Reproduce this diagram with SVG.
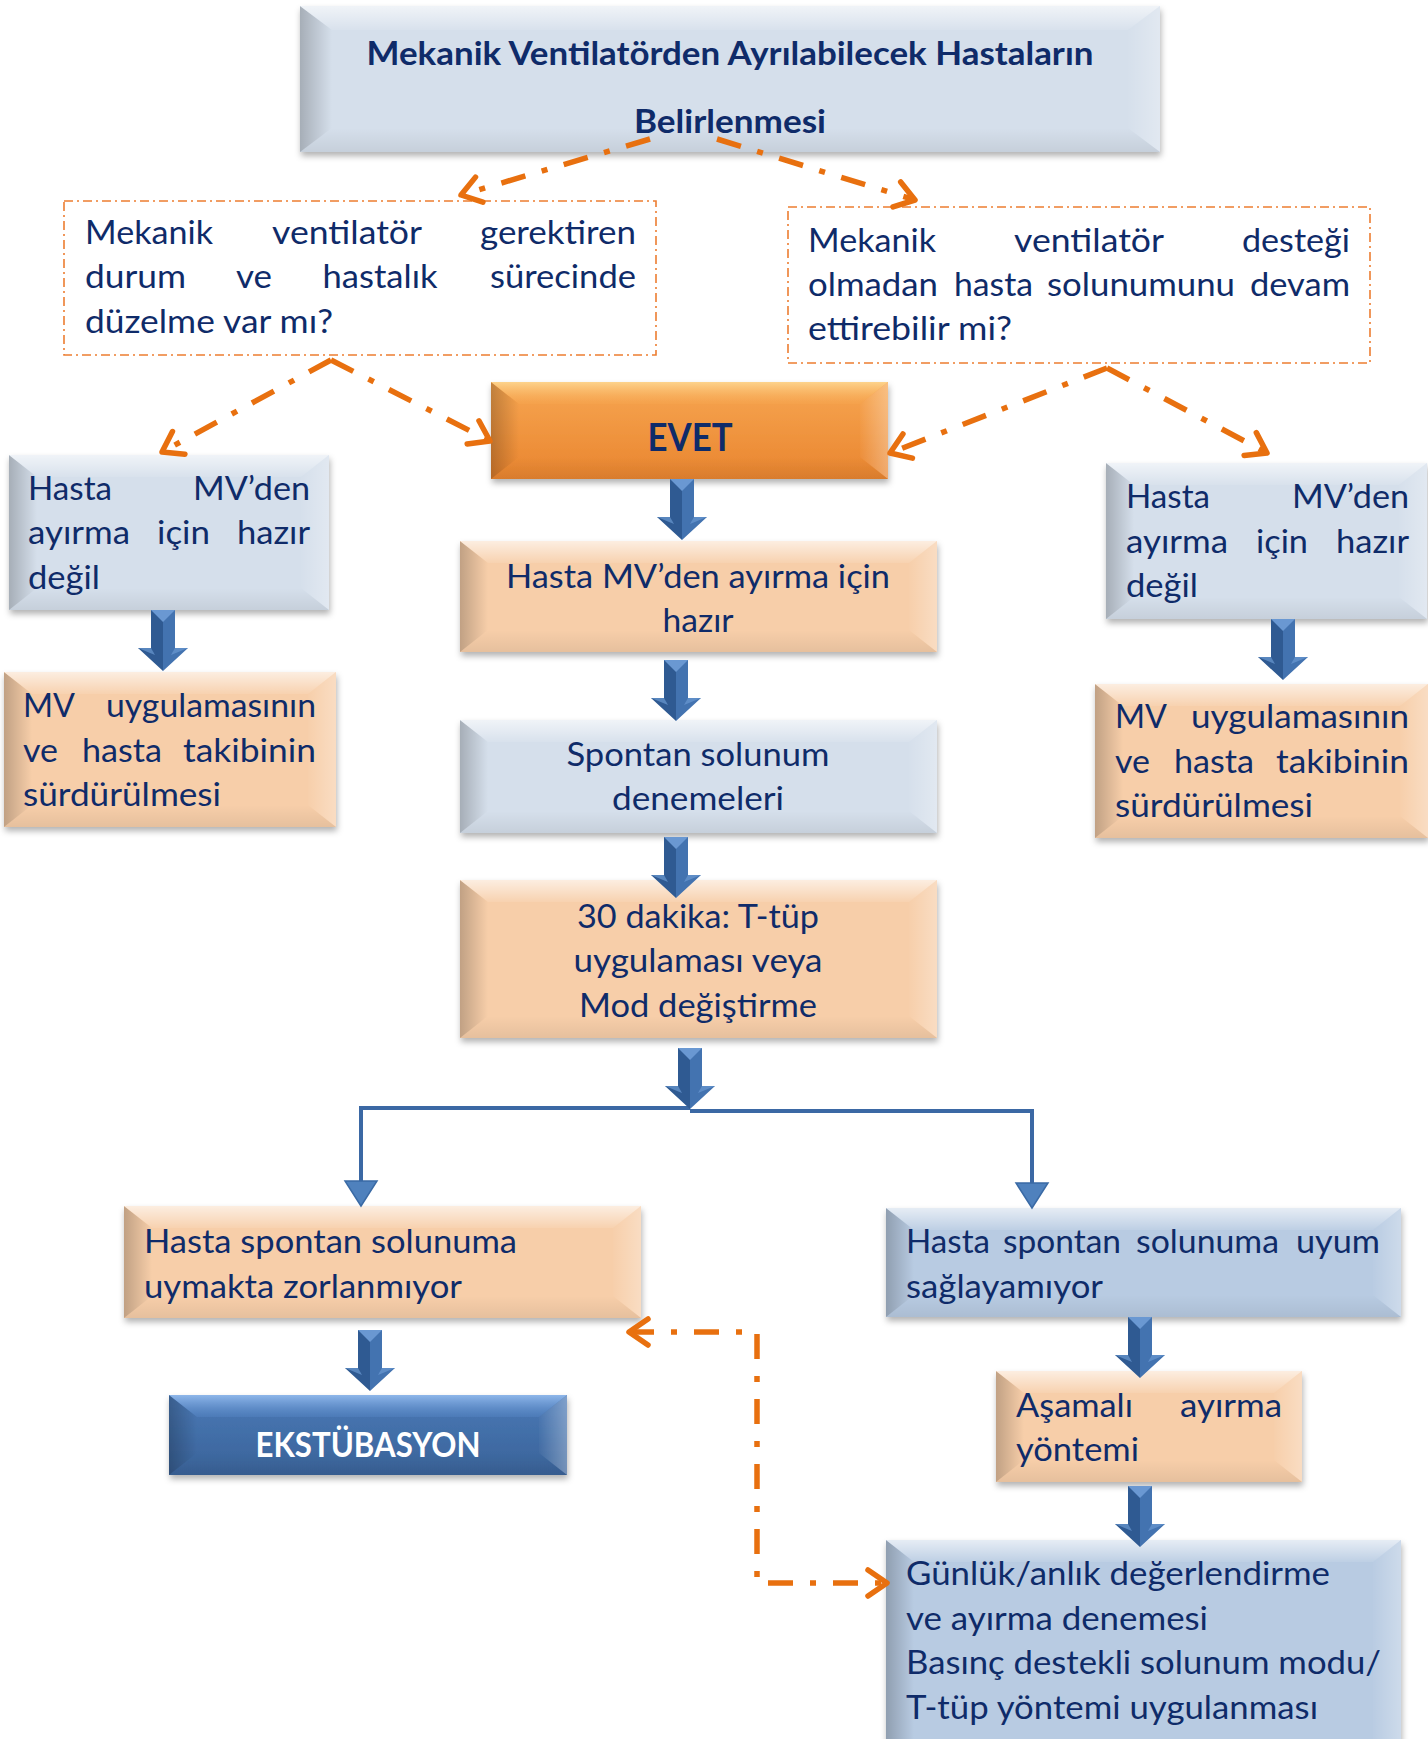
<svg xmlns="http://www.w3.org/2000/svg" xmlns:xlink="http://www.w3.org/1999/xlink" width="1428" height="1739" viewBox="0 0 1428 1739">
<style>
.t{font-family:Lato,"Open Sans","Liberation Sans",sans-serif;font-size:33px;fill:#0f2b69}
.tb{font-family:Lato,"Open Sans","Liberation Sans",sans-serif;font-weight:bold;fill:#0f2b69}
.lb{fill:#d5dfeb}
.pe{fill:#f7cea9}
.mb{fill:#b8cbe2}
.ev{fill:url(#gEv)}
.dk{fill:url(#gDk)}
.bl{fill:url(#ovL)}
.br{fill:url(#ovR)}
.bt{fill:url(#ovT)}
.bb{fill:url(#ovB)}
.dbox{fill:#fff;stroke:#ed7d31;stroke-width:1.6;stroke-dasharray:9 4 2 4}
.oc{fill:none;stroke:#e8700f;stroke-width:5.5;stroke-dasharray:25 17 6 17}
.bc{fill:none;stroke:#3b68a4;stroke-width:4}
.tri{fill:#4f81bd;stroke:#3a6aa5;stroke-width:1.5}
</style>
<defs>
<linearGradient id="ovL" x1="0" y1="0" x2="1" y2="0"><stop offset="0" stop-color="#000" stop-opacity="0.22"/><stop offset="1" stop-color="#000" stop-opacity="0"/></linearGradient>
<linearGradient id="ovR" x1="1" y1="0" x2="0" y2="0"><stop offset="0" stop-color="#fff" stop-opacity="0.3"/><stop offset="1" stop-color="#fff" stop-opacity="0.02"/></linearGradient>
<linearGradient id="ovT" x1="0" y1="0" x2="0" y2="1"><stop offset="0" stop-color="#fff" stop-opacity="0.65"/><stop offset="1" stop-color="#fff" stop-opacity="0.08"/></linearGradient>
<linearGradient id="ovB" x1="0" y1="1" x2="0" y2="0"><stop offset="0" stop-color="#000" stop-opacity="0.07"/><stop offset="1" stop-color="#000" stop-opacity="0"/></linearGradient>
<linearGradient id="gEv" x1="0" y1="0" x2="0" y2="1"><stop offset="0" stop-color="#f7a651"/><stop offset="1" stop-color="#e9852f"/></linearGradient>
<linearGradient id="gDk" x1="0" y1="0" x2="0" y2="1"><stop offset="0" stop-color="#4a79b6"/><stop offset="1" stop-color="#3a6399"/></linearGradient>
<linearGradient id="gEvT" x1="0" y1="0" x2="0" y2="1"><stop offset="0" stop-color="#fdd38c"/><stop offset="1" stop-color="#f7a853" stop-opacity="0.3"/></linearGradient>
<linearGradient id="gDkT" x1="0" y1="0" x2="0" y2="1"><stop offset="0" stop-color="#8fb7ea"/><stop offset="1" stop-color="#5586c6" stop-opacity="0.4"/></linearGradient>
<filter id="sh" x="-5%" y="-10%" width="112%" height="130%"><feDropShadow dx="1" dy="4" stdDeviation="3" flood-color="#000" flood-opacity="0.3"/></filter>
<marker id="chev" viewBox="-24 -17 28 34" refX="0" refY="0" markerWidth="28" markerHeight="34" markerUnits="userSpaceOnUse" orient="auto-start-reverse">
<path d="M-19,-13 L0,0 L-19,13" fill="none" stroke="#e8700f" stroke-width="5.5" stroke-linecap="round" stroke-linejoin="round"/>
</marker>
<g id="ba">
<polygon points="-12,0 0,0 0,61 -25,38 -12,38" fill="#2f5a92"/>
<polygon points="0,0 12,0 12,38 25,38 0,61" fill="#4373b0"/>
<polygon points="-12,0 12,0 0,12" fill="#6a98d2"/>
<polygon points="-25,38 -12,38 -8,45" fill="#6a98d2" opacity="0.7"/>
<polygon points="25,38 12,38 8,45" fill="#6a98d2" opacity="0.7"/>
</g>
</defs>

<rect width="1428" height="1739" fill="#fff"/>

<g id="title">
<rect x="300" y="6" width="860" height="146" class="lb" filter="url(#sh)"/>
<polygon class="bl" points="300,6 332,30 332,128 300,152"/>
<polygon class="br" points="1160,6 1128,30 1128,128 1160,152"/>
<polygon class="bt" points="300,6 1160,6 1128,30 332,30"/>
<polygon class="bb" points="300,152 1160,152 1128,128 332,128"/>
<text class="tb" font-size="32" x="730" y="65" text-anchor="middle" textLength="727" lengthAdjust="spacingAndGlyphs">Mekanik Ventilatörden Ayrılabilecek Hastaların</text>
<text class="tb" font-size="32" x="730" y="133" text-anchor="middle" textLength="192" lengthAdjust="spacingAndGlyphs">Belirlenmesi</text>
</g>

<g id="q1">
<rect x="64" y="201" width="592" height="154" class="dbox"/>
<text class="t" x="85" y="244" textLength="128" lengthAdjust="spacingAndGlyphs">Mekanik</text>
<text class="t" x="347" y="244" text-anchor="middle" textLength="150" lengthAdjust="spacingAndGlyphs">ventilatör</text>
<text class="t" x="636" y="244" text-anchor="end" textLength="156" lengthAdjust="spacingAndGlyphs">gerektiren</text>
<text class="t" x="85" y="288" textLength="101" lengthAdjust="spacingAndGlyphs">durum</text>
<text class="t" x="254" y="288" text-anchor="middle" textLength="36" lengthAdjust="spacingAndGlyphs">ve</text>
<text class="t" x="380" y="288" text-anchor="middle" textLength="115" lengthAdjust="spacingAndGlyphs">hastalık</text>
<text class="t" x="636" y="288" text-anchor="end" textLength="146" lengthAdjust="spacingAndGlyphs">sürecinde</text>
<text class="t" x="85" y="333" textLength="248" lengthAdjust="spacingAndGlyphs">düzelme var mı?</text>
</g>

<g id="q2">
<rect x="788" y="207" width="582" height="156" class="dbox"/>
<text class="t" x="808" y="252" textLength="128" lengthAdjust="spacingAndGlyphs">Mekanik</text>
<text class="t" x="1089" y="252" text-anchor="middle" textLength="150" lengthAdjust="spacingAndGlyphs">ventilatör</text>
<text class="t" x="1350" y="252" text-anchor="end" textLength="108" lengthAdjust="spacingAndGlyphs">desteği</text>
<text class="t" x="808" y="296" textLength="130" lengthAdjust="spacingAndGlyphs">olmadan</text>
<text class="t" x="954" y="296" textLength="79" lengthAdjust="spacingAndGlyphs">hasta</text>
<text class="t" x="1047" y="296" textLength="188" lengthAdjust="spacingAndGlyphs">solunumunu</text>
<text class="t" x="1350" y="296" text-anchor="end" textLength="100" lengthAdjust="spacingAndGlyphs">devam</text>
<text class="t" x="808" y="340" textLength="204" lengthAdjust="spacingAndGlyphs">ettirebilir mi?</text>
</g>

<g id="evet">
<rect x="491" y="382" width="397" height="97" class="ev" filter="url(#sh)"/>
<polygon class="bl" points="491,382 519,404 519,457 491,479"/>
<polygon class="br" points="888,382 860,404 860,457 888,479"/>
<polygon fill="url(#gEvT)" points="491,382 888,382 860,404 519,404"/>
<polygon class="bb" points="491,479 888,479 860,457 519,457"/>
<text class="tb" font-size="38" x="690" y="451" text-anchor="middle" textLength="85" lengthAdjust="spacingAndGlyphs">EVET</text>
</g>

<g id="lnot">
<rect x="9" y="455" width="320" height="155" class="lb" filter="url(#sh)"/>
<polygon class="bl" points="9,455 37,477 37,588 9,610"/>
<polygon class="br" points="329,455 301,477 301,588 329,610"/>
<polygon class="bt" points="9,455 329,455 301,477 37,477"/>
<polygon class="bb" points="9,610 329,610 301,588 37,588"/>
<text class="t" x="28" y="500" textLength="84" lengthAdjust="spacingAndGlyphs">Hasta</text>
<text class="t" x="310" y="500" text-anchor="end" textLength="117" lengthAdjust="spacingAndGlyphs">MV’den</text>
<text class="t" x="28" y="544" textLength="102" lengthAdjust="spacingAndGlyphs">ayırma</text>
<text class="t" x="157" y="544" textLength="53" lengthAdjust="spacingAndGlyphs">için</text>
<text class="t" x="310" y="544" text-anchor="end" textLength="73" lengthAdjust="spacingAndGlyphs">hazır</text>
<text class="t" x="28" y="589" textLength="72" lengthAdjust="spacingAndGlyphs">değil</text>
</g>

<g id="lmv">
<rect x="4" y="672" width="332" height="155" class="pe" filter="url(#sh)"/>
<polygon class="bl" points="4,672 32,694 32,805 4,827"/>
<polygon class="br" points="336,672 308,694 308,805 336,827"/>
<polygon class="bt" points="4,672 336,672 308,694 32,694"/>
<polygon class="bb" points="4,827 336,827 308,805 32,805"/>
<text class="t" x="23" y="717" textLength="52" lengthAdjust="spacingAndGlyphs">MV</text>
<text class="t" x="316" y="717" text-anchor="end" textLength="210" lengthAdjust="spacingAndGlyphs">uygulamasının</text>
<text class="t" x="23" y="762" textLength="35" lengthAdjust="spacingAndGlyphs">ve</text>
<text class="t" x="82" y="762" textLength="80" lengthAdjust="spacingAndGlyphs">hasta</text>
<text class="t" x="316" y="762" text-anchor="end" textLength="133" lengthAdjust="spacingAndGlyphs">takibinin</text>
<text class="t" x="23" y="806" textLength="198" lengthAdjust="spacingAndGlyphs">sürdürülmesi</text>
</g>

<g id="rnot">
<rect x="1106" y="463" width="321" height="156" class="lb" filter="url(#sh)"/>
<polygon class="bl" points="1106,463 1134,485 1134,597 1106,619"/>
<polygon class="br" points="1427,463 1399,485 1399,597 1427,619"/>
<polygon class="bt" points="1106,463 1427,463 1399,485 1134,485"/>
<polygon class="bb" points="1106,619 1427,619 1399,597 1134,597"/>
<text class="t" x="1126" y="508" textLength="84" lengthAdjust="spacingAndGlyphs">Hasta</text>
<text class="t" x="1409" y="508" text-anchor="end" textLength="117" lengthAdjust="spacingAndGlyphs">MV’den</text>
<text class="t" x="1126" y="553" textLength="102" lengthAdjust="spacingAndGlyphs">ayırma</text>
<text class="t" x="1256" y="553" textLength="52" lengthAdjust="spacingAndGlyphs">için</text>
<text class="t" x="1409" y="553" text-anchor="end" textLength="73" lengthAdjust="spacingAndGlyphs">hazır</text>
<text class="t" x="1126" y="597" textLength="72" lengthAdjust="spacingAndGlyphs">değil</text>
</g>

<g id="rmv">
<rect x="1095" y="684" width="333" height="154" class="pe" filter="url(#sh)"/>
<polygon class="bl" points="1095,684 1123,706 1123,816 1095,838"/>
<polygon class="br" points="1428,684 1400,706 1400,816 1428,838"/>
<polygon class="bt" points="1095,684 1428,684 1400,706 1123,706"/>
<polygon class="bb" points="1095,838 1428,838 1400,816 1123,816"/>
<text class="t" x="1115" y="728" textLength="52" lengthAdjust="spacingAndGlyphs">MV</text>
<text class="t" x="1409" y="728" text-anchor="end" textLength="218" lengthAdjust="spacingAndGlyphs">uygulamasının</text>
<text class="t" x="1115" y="773" textLength="35" lengthAdjust="spacingAndGlyphs">ve</text>
<text class="t" x="1174" y="773" textLength="80" lengthAdjust="spacingAndGlyphs">hasta</text>
<text class="t" x="1409" y="773" text-anchor="end" textLength="133" lengthAdjust="spacingAndGlyphs">takibinin</text>
<text class="t" x="1115" y="817" textLength="198" lengthAdjust="spacingAndGlyphs">sürdürülmesi</text>
</g>

<g id="ready">
<rect x="460" y="541" width="477" height="111" class="pe" filter="url(#sh)"/>
<polygon class="bl" points="460,541 488,563 488,630 460,652"/>
<polygon class="br" points="937,541 909,563 909,630 937,652"/>
<polygon class="bt" points="460,541 937,541 909,563 488,563"/>
<polygon class="bb" points="460,652 937,652 909,630 488,630"/>
<text class="t" x="698" y="588" text-anchor="middle" textLength="384" lengthAdjust="spacingAndGlyphs">Hasta MV’den ayırma için</text>
<text class="t" x="698" y="632" text-anchor="middle" textLength="71" lengthAdjust="spacingAndGlyphs">hazır</text>
</g>

<g id="spont">
<rect x="460" y="720" width="477" height="113" class="lb" filter="url(#sh)"/>
<polygon class="bl" points="460,720 488,742 488,811 460,833"/>
<polygon class="br" points="937,720 909,742 909,811 937,833"/>
<polygon class="bt" points="460,720 937,720 909,742 488,742"/>
<polygon class="bb" points="460,833 937,833 909,811 488,811"/>
<text class="t" x="698" y="766" text-anchor="middle" textLength="263" lengthAdjust="spacingAndGlyphs">Spontan solunum</text>
<text class="t" x="698" y="810" text-anchor="middle" textLength="172" lengthAdjust="spacingAndGlyphs">denemeleri</text>
</g>

<g id="t30">
<rect x="460" y="880" width="477" height="158" class="pe" filter="url(#sh)"/>
<polygon class="bl" points="460,880 488,902 488,1016 460,1038"/>
<polygon class="br" points="937,880 909,902 909,1016 937,1038"/>
<polygon class="bt" points="460,880 937,880 909,902 488,902"/>
<polygon class="bb" points="460,1038 937,1038 909,1016 488,1016"/>
<text class="t" x="698" y="928" text-anchor="middle" textLength="242" lengthAdjust="spacingAndGlyphs">30 dakika: T-tüp</text>
<text class="t" x="698" y="972" text-anchor="middle" textLength="249" lengthAdjust="spacingAndGlyphs">uygulaması veya</text>
<text class="t" x="698" y="1017" text-anchor="middle" textLength="238" lengthAdjust="spacingAndGlyphs">Mod değiştirme</text>
</g>

<g id="ok">
<rect x="124" y="1206" width="517" height="112" class="pe" filter="url(#sh)"/>
<polygon class="bl" points="124,1206 152,1228 152,1296 124,1318"/>
<polygon class="br" points="641,1206 613,1228 613,1296 641,1318"/>
<polygon class="bt" points="124,1206 641,1206 613,1228 152,1228"/>
<polygon class="bb" points="124,1318 641,1318 613,1296 152,1296"/>
<text class="t" x="144" y="1253" textLength="373" lengthAdjust="spacingAndGlyphs">Hasta spontan solunuma</text>
<text class="t" x="144" y="1298" textLength="318" lengthAdjust="spacingAndGlyphs">uymakta zorlanmıyor</text>
</g>

<g id="ekst">
<rect x="169" y="1395" width="398" height="80" class="dk" filter="url(#sh)"/>
<polygon class="bl" points="169,1395 197,1417 197,1453 169,1475"/>
<polygon class="br" points="567,1395 539,1417 539,1453 567,1475"/>
<polygon fill="url(#gDkT)" points="169,1395 567,1395 539,1417 197,1417"/>
<polygon class="bb" points="169,1475 567,1475 539,1453 197,1453"/>
<text class="tb" font-size="35" x="368" y="1457" text-anchor="middle" style="fill:#fff" textLength="225" lengthAdjust="spacingAndGlyphs">EKSTÜBASYON</text>
</g>

<g id="fail">
<rect x="886" y="1208" width="515" height="109" class="mb" filter="url(#sh)"/>
<polygon class="bl" points="886,1208 914,1230 914,1295 886,1317"/>
<polygon class="br" points="1401,1208 1373,1230 1373,1295 1401,1317"/>
<polygon class="bt" points="886,1208 1401,1208 1373,1230 914,1230"/>
<polygon class="bb" points="886,1317 1401,1317 1373,1295 914,1295"/>
<text class="t" x="906" y="1253" textLength="84" lengthAdjust="spacingAndGlyphs">Hasta</text>
<text class="t" x="1003" y="1253" textLength="118" lengthAdjust="spacingAndGlyphs">spontan</text>
<text class="t" x="1136" y="1253" textLength="143" lengthAdjust="spacingAndGlyphs">solunuma</text>
<text class="t" x="1380" y="1253" text-anchor="end" textLength="84" lengthAdjust="spacingAndGlyphs">uyum</text>
<text class="t" x="906" y="1298" textLength="197" lengthAdjust="spacingAndGlyphs">sağlayamıyor</text>
</g>

<g id="asam">
<rect x="996" y="1371" width="306" height="111" class="pe" filter="url(#sh)"/>
<polygon class="bl" points="996,1371 1024,1393 1024,1460 996,1482"/>
<polygon class="br" points="1302,1371 1274,1393 1274,1460 1302,1482"/>
<polygon class="bt" points="996,1371 1302,1371 1274,1393 1024,1393"/>
<polygon class="bb" points="996,1482 1302,1482 1274,1460 1024,1460"/>
<text class="t" x="1016" y="1417" textLength="117" lengthAdjust="spacingAndGlyphs">Aşamalı</text>
<text class="t" x="1282" y="1417" text-anchor="end" textLength="102" lengthAdjust="spacingAndGlyphs">ayırma</text>
<text class="t" x="1016" y="1461" textLength="123" lengthAdjust="spacingAndGlyphs">yöntemi</text>
</g>

<g id="gunluk">
<rect x="886" y="1540" width="515" height="230" class="mb" filter="url(#sh)"/>
<polygon class="bl" points="886,1540 914,1562 914,1748 886,1770"/>
<polygon class="br" points="1401,1540 1373,1562 1373,1748 1401,1770"/>
<polygon class="bt" points="886,1540 1401,1540 1373,1562 914,1562"/>
<text class="t" x="906" y="1585" textLength="424" lengthAdjust="spacingAndGlyphs">Günlük/anlık değerlendirme</text>
<text class="t" x="906" y="1630" textLength="302" lengthAdjust="spacingAndGlyphs">ve ayırma denemesi</text>
<text class="t" x="906" y="1674" textLength="475" lengthAdjust="spacingAndGlyphs">Basınç destekli solunum modu/</text>
<text class="t" x="906" y="1719" textLength="412" lengthAdjust="spacingAndGlyphs">T-tüp yöntemi uygulanması</text>
</g>

<g id="connectors">
<path class="oc" d="M650,139 L461,195" marker-end="url(#chev)"/>
<path class="oc" d="M717,139 L915,200" marker-end="url(#chev)"/>
<path class="oc" d="M331,360 L162,452" marker-end="url(#chev)"/>
<path class="oc" d="M331,360 L490,441" marker-end="url(#chev)"/>
<path class="oc" d="M1107,368 L890,453" marker-end="url(#chev)"/>
<path class="oc" d="M1107,368 L1267,453" marker-end="url(#chev)"/>
<path class="oc" d="M629,1332 L757,1332 L757,1583 L887,1583" marker-start="url(#chev)" marker-end="url(#chev)"/>
<path class="bc" d="M690,1108 L361,1108 L361,1182"/>
<path class="bc" d="M690,1111 L1032,1111 L1032,1184"/>
<polygon class="tri" points="345,1181 377,1181 361,1206"/>
<polygon class="tri" points="1016,1183 1048,1183 1032,1208"/>
<use href="#ba" x="163" y="610"/>
<use href="#ba" x="1283" y="619"/>
<use href="#ba" x="682" y="479"/>
<use href="#ba" x="676" y="660"/>
<use href="#ba" x="676" y="837"/>
<use href="#ba" x="690" y="1048"/>
<use href="#ba" x="370" y="1330"/>
<use href="#ba" x="1140" y="1317"/>
<use href="#ba" x="1140" y="1486"/>
</g>
</svg>
